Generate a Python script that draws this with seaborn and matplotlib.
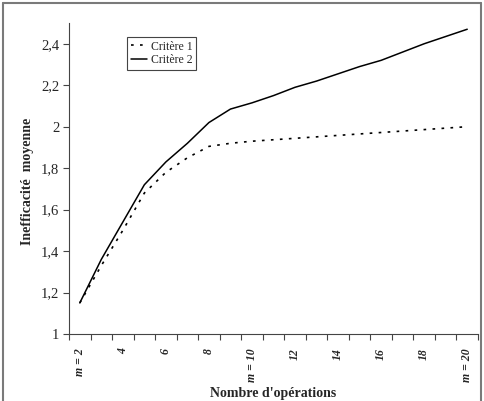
import numpy as np
import pandas as pd
import seaborn as sns
import matplotlib.pyplot as plt
from matplotlib.lines import Line2D
from matplotlib.ticker import FuncFormatter, FixedLocator

# data
operations = list(range(2, 21))
critere_1 = [1.15, 1.33, 1.50, 1.68, 1.78, 1.85, 1.905, 1.92, 1.93, 1.937,
             1.944, 1.951, 1.958, 1.965, 1.972, 1.979, 1.986, 1.993, 2.00]
critere_2 = [1.15, 1.36, 1.54, 1.72, 1.83, 1.92, 2.02, 2.085, 2.115, 2.15,
             2.19, 2.22, 2.255, 2.29, 2.32, 2.36, 2.40, 2.435, 2.47]
xtick_pos = [2, 4, 6, 8, 10, 12, 14, 16, 18, 20]
xtick_labels = ['m = 2', '4', '6', '8', 'm = 10', '12', '14', '16', '18', 'm = 20']

df = pd.DataFrame({
    'Nombre': operations * 2,
    'Valeur': critere_1 + critere_2,
    'Critère': ['Critère 1'] * len(operations) + ['Critère 2'] * len(operations),
})

sns.set_style('ticks')
plt.rcParams['font.family'] = ['Liberation Serif', 'DejaVu Serif']

fig = plt.figure(figsize=(4.84, 4.01), dpi=100)
ax = fig.add_axes([0.1426, 0.167, 0.8450, 0.7756])

sns.lineplot(data=df[df['Critère'] == 'Critère 1'], x='Nombre', y='Valeur',
             color='black', lw=1.2, ax=ax, label='Critère 1')
ax.lines[-1].set_dashes((1.6, 3.8))
sns.lineplot(data=df[df['Critère'] == 'Critère 2'], x='Nombre', y='Valeur',
             color='black', lw=1.1, ax=ax, label='Critère 2')

ax.set_xlim(1.5, 20.5)
ax.set_ylim(1, 2.5)
ax.set_yticks(np.arange(1, 2.41, 0.2))
ax.yaxis.set_major_formatter(FuncFormatter(lambda v, p: f'{v:g}'.replace('.', ',')))
ax.tick_params(axis='y', labelsize=10.5, length=4, width=0.8, color='#444', pad=3)

ax.set_xticks(xtick_pos)
ax.set_xticklabels(xtick_labels, rotation=90, fontweight='bold',
                   fontstyle='italic', fontsize=8.5)
ax.xaxis.set_minor_locator(FixedLocator(np.arange(1.5, 20.6, 1)))
ax.tick_params(axis='x', which='major', length=0, pad=10)
ax.tick_params(axis='x', which='minor', length=4, width=0.8, color='#444')

for s in ['top', 'right']:
    ax.spines[s].set_visible(False)
for s in ['left', 'bottom']:
    ax.spines[s].set_color('#444')
    ax.spines[s].set_linewidth(0.8)

ax.set_xlabel("Nombre d'opérations", fontsize=10, fontweight='bold')
ax.set_ylabel('Inefficacité  moyenne', fontsize=10, fontweight='bold')
ax.xaxis.set_label_coords(0.5, -0.17)
ax.yaxis.set_label_coords(-0.086, 0.49)

leg = ax.legend(loc='upper left', bbox_to_anchor=(0.142, 0.955), borderaxespad=0,
                fancybox=False, edgecolor='#444', framealpha=1, fontsize=8.5,
                borderpad=0.3, handlelength=1.4, handletextpad=0.3, labelspacing=0.15)
leg.get_frame().set_linewidth(0.8)

# chart-area border (left, top, right)
bc = '#7a7a7a'
fig.add_artist(Line2D([2.5 / 484, 2.5 / 484], [0, 1 - 2.5 / 401], color=bc, lw=1.5,
                      transform=fig.transFigure))
fig.add_artist(Line2D([2.5 / 484, 480.5 / 484], [1 - 2.5 / 401, 1 - 2.5 / 401], color=bc,
                      lw=1.5, transform=fig.transFigure))
fig.add_artist(Line2D([480.5 / 484, 480.5 / 484], [0, 1 - 2.5 / 401], color=bc, lw=1.5,
                      transform=fig.transFigure))

fig.savefig('out.png', dpi=100)
